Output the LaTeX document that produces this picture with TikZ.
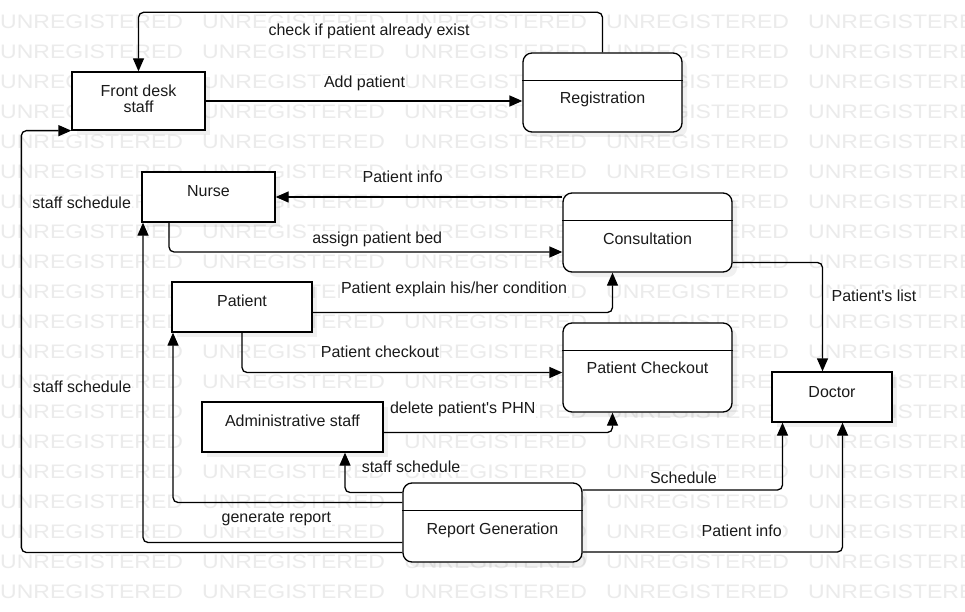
\documentclass[tikz,border=0pt]{standalone}
\usepackage{fontspec}
\usepackage{graphicx}
\setmainfont{Liberation Sans}[Ligatures=TeXOff]
\usetikzlibrary{arrows.meta,shadows}
\definecolor{wmgray}{HTML}{EBEBEB}
\definecolor{txtc}{HTML}{1A1A1A}
\begin{document}
\begin{tikzpicture}[x=1pt,y=-1pt,
  every node/.style={text=txtc, font=\fontsize{16}{16}\selectfont},
  wm/.style={anchor=base west, inner sep=0pt, text=wmgray, font=\fontsize{19.5}{19.5}\selectfont},
  box/.style={draw=black, line width=1.3pt, fill=white, inner sep=0pt,
    drop shadow={shadow xshift=5pt, shadow yshift=-5pt, fill=black, opacity=0.06}},
  rbox/.style={box, rounded corners=9pt},
  lbl/.style={fill=white, inner sep=1pt, anchor=base},
  btxt/.style={anchor=base, inner sep=0pt},
  arr/.style={draw=black, line width=1.3pt, rounded corners=5pt, -{Triangle[length=13pt,width=11pt]}},
  divider/.style={draw=black, line width=1.3pt}
]
\useasboundingbox (0,0) rectangle (965,612);
\fill[white] (0,0) rectangle (965,612);
% watermark
\begin{scope}
\clip (0,0) rectangle (965,612);
\foreach \r in {0,...,19}{
  \foreach \c in {0,...,4}{
    \node[wm] (wm-\r-\c) at (\c*202, 28.5+\r*30) {\scalebox{1.18}[1]{UNREGISTERED}};
  }
}
\end{scope}
% boxes
\node[box, minimum width=133pt, minimum height=58pt] (fd) at (138.5,101) {};
\node[rbox, minimum width=159pt, minimum height=79pt] (reg) at (602.5,92.5) {};
\node[box, minimum width=133pt, minimum height=50pt] (nurse) at (208.5,197) {};
\node[box, minimum width=140pt, minimum height=50pt] (pat) at (242,307) {};
\node[rbox, minimum width=169pt, minimum height=79pt] (cons) at (647.5,232.5) {};
\node[rbox, minimum width=169pt, minimum height=89pt] (chk) at (647.5,367.5) {};
\node[box, minimum width=120pt, minimum height=50pt] (doc) at (832,397) {};
\node[box, minimum width=181pt, minimum height=50pt] (adm) at (292.5,427) {};
\node[rbox, minimum width=179pt, minimum height=79pt] (rep) at (492.5,522.5) {};
% dividers
\foreach \n in {reg,cons,chk,rep}
  \draw[divider] ([yshift=-28.3pt]\n.north west) -- ([yshift=-28.3pt]\n.north east);
% box texts
\node[align=center, inner sep=0pt] (fd-t) at (138.5,99) {Front desk\\staff};
\node[btxt] (reg-t) at (602.5,104) {Registration};
\node[btxt] (nurse-t) at (208.5,196.7) {Nurse};
\node[btxt] (pat-t) at (242,306.7) {Patient};
\node[btxt] (cons-t) at (647.5,244) {Consultation};
\node[btxt] (chk-t) at (647.5,373.3) {Patient Checkout};
\node[btxt] (doc-t) at (832,397.3) {Doctor};
\node[btxt] (adm-t) at (292.5,426.7) {Administrative staff};
\node[btxt] (rep-t) at (492.5,534) {Report Generation};
% connectors
\draw[arr] (reg.north) -- ++(0,-40) -| (fd.north);
\draw[arr] (fd.east) -- (fd.east -| reg.west);
\draw[arr] (nurse.east -| cons.west) -- (nurse.east);
\draw[arr] (nurse.south -| 169,0) |- (cons.west |- 0,252);
\draw[arr] (pat.east |- 0,312.5) -| (cons.south -| 612.5,0);
\draw[arr] (pat.south) |- (chk.west |- 0,372.5);
\draw[arr] (cons.east |- 0,262.5) -| (doc.north -| 822.5,0);
\draw[arr] (adm.east |- 0,432.5) -| (chk.south -| 612.5,0);
\draw[arr] (rep.west |- 0,492.5) -| (adm.south -| 345,0);
\draw[arr] (rep.west |- 0,502.5) -| (pat.south -| 173,0);
\draw[arr] (rep.west |- 0,542.5) -| (nurse.south -| 143,0);
\draw[arr] (rep.west |- 0,552.5) -| ([xshift=-50pt]fd.south west) -- (fd.south west);
\draw[arr] (rep.east |- 0,490) -| (doc.south -| 782.5,0);
\draw[arr] (rep.east |- 0,552) -| (doc.south -| 842.5,0);
% labels
\node[lbl] (l-check) at (369,36) {check if patient already exist};
\node[lbl] (l-add) at (364.5,87.3) {Add patient};
\node[lbl] (l-pinfo1) at (402.7,182.3) {Patient info};
\node[lbl] (l-bed) at (377.2,243.3) {assign patient bed};
\node[lbl] (l-expl) at (454,293.3) {Patient explain his/her condition};
\node[lbl] (l-pchk) at (380,357) {Patient checkout};
\node[lbl] (l-list) at (874,301.7) {Patient's list};
\node[lbl] (l-phn) at (462.7,413.3) {delete patient's PHN};
\node[lbl] (l-ss3) at (411,472.3) {staff schedule};
\node[lbl] (l-gen) at (276.4,522.3) {generate report};
\node[lbl] (l-sch) at (683.4,483.3) {Schedule};
\node[lbl] (l-pinfo2) at (741.7,536.7) {Patient info};
\node[lbl] (l-ss1) at (81.7,208.3) {staff schedule};
\node[lbl] (l-ss2) at (82,392.3) {staff schedule};
\end{tikzpicture}
\end{document}
